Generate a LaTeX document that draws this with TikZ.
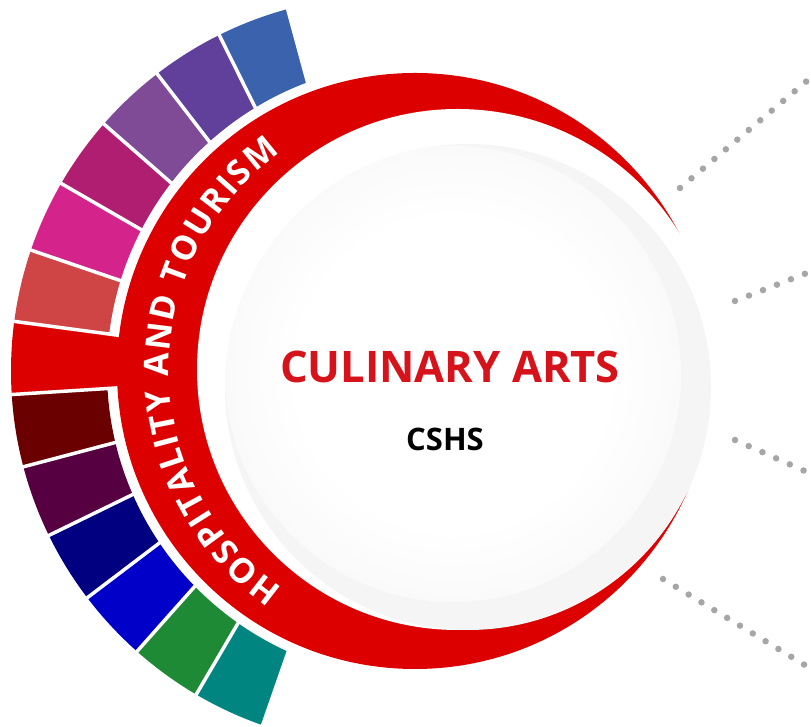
\documentclass[tikz,border=0pt]{standalone}
\usepackage{fontspec}
\setmainfont{Open Sans}
\usetikzlibrary{calc,decorations.text}
\definecolor{ringred}{HTML}{DD0000}
\definecolor{culred}{HTML}{D6121B}
\definecolor{dotgray}{HTML}{A6A6A6}
\definecolor{segA}{HTML}{3B62AD}
\definecolor{segB}{HTML}{60409A}
\definecolor{segC}{HTML}{7F4B97}
\definecolor{segD}{HTML}{B01E72}
\definecolor{segE}{HTML}{D4238B}
\definecolor{segF}{HTML}{CF4546}
\definecolor{segG}{HTML}{DD0000}
\definecolor{segH}{HTML}{6A0000}
\definecolor{segI}{HTML}{560042}
\definecolor{segJ}{HTML}{000080}
\definecolor{segK}{HTML}{0000C8}
\definecolor{segL}{HTML}{1F8A36}
\definecolor{segM}{HTML}{008580}
\pgfdeclareradialshading{softdisk}{\pgfpoint{0bp}{0bp}}{color(0bp)=(white); color(17bp)=(white); color(25bp)=(gray!4); color(50bp)=(gray!4)}
\tikzset{
  dotline/.style={draw=dotgray, line width=6.5pt, line cap=round, dash pattern=on 0pt off 15pt},
  gapline/.style={draw=white, line width=3.5pt}
}
\begin{document}
\begin{tikzpicture}[x=1pt,y=1pt]
\useasboundingbox (0,0) rectangle (811,727);
\coordinate (S) at (386,356);
\coordinate (C1) at (415,356);
\coordinate (C2) at (457.5,357.5);
\coordinate (G) at (468,340);
\coordinate (W) at (453,353);
\coordinate (T) at (436,357);
% coloured segments
\foreach \i/\col/\rin in {0/segA/308,1/segB/308,2/segC/308,3/segD/308,4/segE/308,5/segF/308,6/segG/280,7/segH/308,8/segI/308,9/segJ/308,10/segK/308,11/segL/308,12/segM/308}{
  \pgfmathsetmacro\aA{105.2+\i*11.2}
  \pgfmathsetmacro\aB{\aA+11.2}
  \begin{scope}
    \clip (S) -- ($(S)+(\aA:520pt)$) arc[start angle=\aA, end angle=\aB, radius=520pt] -- cycle;
    \fill[\col, even odd rule] (S) circle[radius=375pt] (C1) circle[radius=\rin pt];
  \end{scope}
}
% white separators
\foreach \k in {0,...,13}{
  \pgfmathsetmacro\a{105.2+\k*11.2}
  \draw[gapline] ($(S)+(\a:250pt)$) -- ($(S)+(\a:400pt)$);
}
% red crescent
\fill[ringred] (C1) circle[radius=298pt];
\fill[white] (C2) circle[radius=260.5pt];
% grey disc
\fill[gray!8] (G) circle[radius=243pt];
\begin{scope}
  \clip (G) circle[radius=243pt];
  \shade[shading=softdisk] (W) circle[radius=228pt];
\end{scope}
% ring text
\path[decorate, decoration={text along path, text={|\bfseries\fontsize{34}{34}\selectfont|HOSPITALITY AND TOURISM}, text color=white, text align={fit to path}}]
  ($(T)+(235:267pt)$) arc[start angle=235, end angle=125.7, radius=267pt];
% centre texts
\node[text=culred, font=\bfseries\fontsize{43.5}{43.5}\selectfont] (title) at (450,360) {CULINARY ARTS};
\node[text=black, font=\bfseries\fontsize{31}{31}\selectfont] (sub) at (445,288) {CSHS};
% dotted connectors
\coordinate (a1) at (680,539); \coordinate (b1) at (817.5,655);
\coordinate (a2) at (735,426); \coordinate (b2) at (818.8,458.6);
\coordinate (a3) at (735,287); \coordinate (b3) at (817,250.5);
\coordinate (a4) at (663,148); \coordinate (b4) at (817,54.6);
\draw[dotline] (a1) -- (b1);
\draw[dotline] (a2) -- (b2);
\draw[dotline] (a3) -- (b3);
\draw[dotline] (a4) -- (b4);
\end{tikzpicture}
\end{document}
